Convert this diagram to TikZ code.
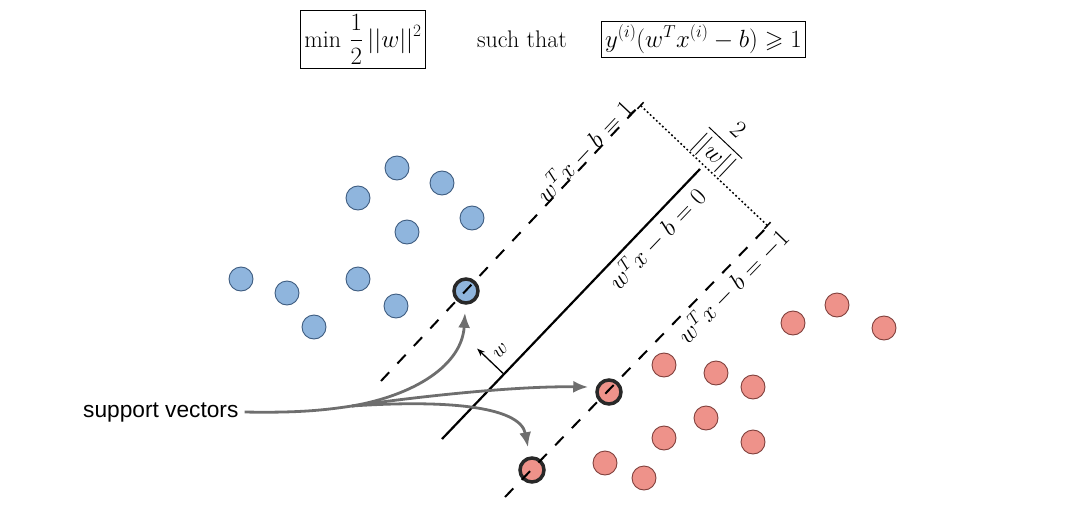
\documentclass[tikz,border=0pt]{standalone}
\usepackage{amsmath,amssymb}
\usepackage{fontspec}
\newfontfamily\svfont{Liberation Sans}
\usetikzlibrary{arrows.meta,calc}
\definecolor{bluefill}{RGB}{143,181,221}
\definecolor{blueline}{RGB}{62,92,128}
\definecolor{redfill}{RGB}{238,146,138}
\definecolor{redline}{RGB}{128,64,60}
\definecolor{svline}{RGB}{40,40,40}
\definecolor{arrowgray}{RGB}{110,110,110}
\begin{document}
\begin{tikzpicture}[x=1pt,y=-1pt,
  pt/.style={circle,minimum size=24pt,inner sep=0pt,line width=0.9pt},
  bluept/.style={pt,fill=bluefill,draw=blueline},
  redpt/.style={pt,fill=redfill,draw=redline},
  svpt/.style={draw=svline,line width=3.5pt},
  margin/.style={line width=2pt,dash pattern=on 12pt off 12pt},
  hyper/.style={line width=2.2pt},
  svarrow/.style={draw=arrowgray,line width=2.8pt,-{Latex[length=15pt,width=12pt]}},
  mathfont/.style={font=\fontsize{24}{29}\selectfont},
  formbox/.style={draw,line width=1pt,inner sep=4pt,mathfont},
  lbl/.style={mathfont,sloped}
]
\useasboundingbox (0,0) rectangle (1080,506);

% objective and constraint
\node[formbox,anchor=base,minimum height=58pt] (obj) at (363,47) {$\displaystyle\min\,\frac{1}{2}\,||w||^2$};
\node[mathfont,anchor=base] (st) at (522,47) {such that};
\node[formbox,anchor=base] (cons) at (703.5,47) {$y^{(i)}(w^Tx^{(i)}-b)\geqslant 1$};

% class -1 (blue)
\foreach \px/\py [count=\i] in {397/168,442/183,358/198,472/218,407/232,241/279,358/279,287/293,396/306,314/327}
  \node[bluept] (b\i) at (\px,\py) {};
\node[bluept,svpt] (bsv) at (466,291) {};

% class +1 (red)
\foreach \px/\py [count=\i] in {793/323,837/305,884/328,664/365,716/373,753/387,706/418,664/438,753/442,605/463,644/478}
  \node[redpt] (r\i) at (\px,\py) {};
\node[redpt,svpt] (rsv1) at (609,392) {};
\node[redpt,svpt] (rsv2) at (532,470) {};

% hyperplanes
\coordinate (ua) at (381,381); \coordinate (ub) at (640,105);
\coordinate (ha) at (442,439); \coordinate (hb) at (700,169);
\coordinate (la) at (505,497); \coordinate (lb) at (768,226);

\draw[margin] (ua) -- node[lbl,pos=0.81,anchor=base] {$w^Tx-b=1$} (ub);
\draw[hyper] (ha) -- node[lbl,pos=0.785,anchor=north,inner sep=4pt] {$w^Tx-b=0$} (hb);
\draw[margin] (la) -- node[lbl,pos=0.82,anchor=north,inner sep=4pt] {$w^Tx-b=-1$} (lb);

% margin width
\draw[line width=1.5pt,dash pattern=on 1.8pt off 2.4pt,{Bar[width=9pt]}-{Bar[width=9pt]}]
  (ub) -- node[sloped,anchor=south,inner sep=1pt,mathfont] {$\dfrac{2}{||w||}$} (lb);

% normal vector w
\coordinate (wb) at ($(ha)!0.24!(hb)$);
\coordinate (wt) at ($(wb)!37pt!90:(hb)$);
\coordinate (wm) at ($(wb)!0.5!(wt)$);
\draw[line width=1.3pt,-{Stealth[length=8pt,width=6pt]}] (wb) -- (wt);
\node[font=\fontsize{22}{26}\selectfont,rotate=46.3] (wl) at ($(wm)!15pt!-90:(wt)$) {$w$};

% support vectors label and arrows
\node[font=\svfont\fontsize{22.7}{27}\selectfont,anchor=base west,inner sep=6pt] (svt) at (77,417) {support vectors};
\coordinate (j) at (352,406);
\coordinate (t1) at ($(bsv.south)+(-1,8)$);
\coordinate (t2) at ($(rsv1.west)+(-7,-5)$);
\coordinate (t3) at ($(rsv2.north)+(-4,-9)$);
\draw[arrowgray,line width=2.8pt] (svt.east) .. controls (300,413) and (325,410) .. (j);
\draw[svarrow] (j) .. controls (415,395) and (462,365) .. (t1);
\draw[svarrow] (j) .. controls (430,395) and (520,386) .. (t2);
\draw[svarrow] (j) .. controls (440,400) and (520,405) .. (t3);
\end{tikzpicture}
\end{document}
